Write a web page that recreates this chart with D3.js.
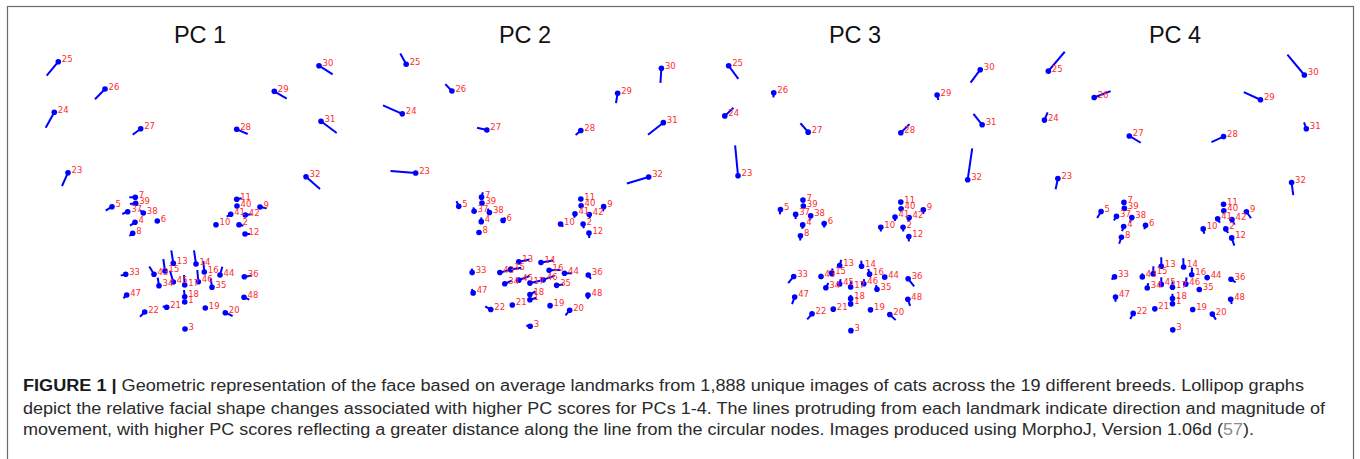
<!DOCTYPE html>
<html>
<head>
<meta charset="utf-8">
<script src="https://cdn.jsdelivr.net/npm/d3@7"></script>
<style>
  html, body { margin: 0; padding: 0; background: #fff; }
  svg { display: block; }
</style>
</head>
<body>
<svg id="chart" width="1360" height="459"></svg>
<script>
// ---------------- DATA ----------------
const landmarkIds = d3.range(1, 49);
// average landmark coordinates (arbitrary units, y downward)
const meanX = [184.7,239,185,135,112,157.3,135.3,132.7,260,216,236.7,245,173.3,196,165,204.3,184.7,184.7,205.3,225.3,166.7,144.7,68,54.3,58.3,105,140.7,236.7,274.3,319,321,306,125.7,159,212,244.3,127.7,143.3,135.7,237,230.7,245.3,154,220,173.3,198.3,126.7,244];
const meanY = [302,224.7,329,222.3,206.7,221,197.3,233.3,207,224.7,199.3,234,263.3,264,271,272,285,296.7,308,312.7,307.3,312,172.7,112.3,61.7,89,128.7,129.3,91.3,65.7,121.3,176.7,274.3,285.7,287.3,276.7,211.7,213,203.3,206,214.3,215,274.3,275,282,281.7,295,297.3];

const pcNames = ["PC 1", "PC 2", "PC 3", "PC 4"];
// displacement vectors (direction and magnitude) for each landmark 1..48
const pc1dx = [0,4.3,0,-5,-6.3,-2,-6,-3.4,6.7,-1,5,5,-2,-2,-1.7,-1,-0.7,-0.7,-1,7.3,-4,-4.7,-6,-8.6,-11.6,-10,-8,11,12.4,13.7,15.7,14,-5,-1.3,-1.3,7.3,-5.4,-3.3,-5.7,2,-4,6.3,-4.7,2.3,-3.3,-1,-3.3,5.3];
const pc1dy = [-1,1,0,3.4,4,1,0,2.7,1.3,0.5,-1,0,-13,-13.7,-12,-11,-10,-6.7,0,3.3,-0.7,4.7,13.3,15.4,14,10.3,6,4.7,7.4,8.6,11.7,12.3,1.3,-8,-9,-1,2.3,-2.7,0.7,0,2.3,-0.7,-7.7,-8.3,-11.3,-11.7,3.3,2.3];
const pc2dx = [6.7,0.7,-4,0,-2.3,2.3,1.3,0,-0.7,2.7,0,0.3,11,12.3,11,11.7,10.7,5.7,1,-4.3,1,-5.7,-25.7,-19.7,-6,-6.7,-10,-5.3,-1.7,-1,-15.7,-22.3,-0.3,7,6.7,2.7,-0.7,-1.7,0,0,-0.7,0.7,12.3,7.7,11,11.7,-1.3,-0.3];
const pc2dy = [-2,4.3,-0.7,-4.3,-5.3,-2.7,-5,-2,4.7,2.7,-2,5,-2.3,-2,-1.7,-0.3,-2.3,-3.3,0,5.3,0,-3.3,-2,-8.7,-11,-7,-2.3,4.7,10,15,12.3,6.7,-4,-3.3,-1,4,-4,-4,-2,2,4,3.7,-3.3,0,-4.3,-4.3,-4,4];
const pc3dx = [0,0.3,0,-0.3,-0.7,0,0,-0.3,0,0,0,0,1.7,-0.3,1,-1.3,0.3,0,0,6,0,-5,-3,9,10,-0.3,-8,9,1.3,-10,-9,4.7,-5.7,2.7,-1,6.3,0,-0.7,0,0,0,-0.7,-0.7,0,1,0.3,-2.7,2.3];
const pc3dy = [1,4.3,1,4,5,4,2,4.7,4.3,4.3,2,5,-5.7,-5.7,-4.7,-5.3,-5.7,-3.7,1,5.7,1,5.7,-30.7,-8.3,13.3,4.7,-9,-8.7,5,13,-11,-31.7,6.7,-4.7,-4.3,7.7,4.7,4.7,2,2,4,4,-2.7,-1,-5,-4.7,7.3,6.7];
const pc4dx = [0,2.3,0,-1.7,-4,-1.3,0,-2.3,4.7,1,0,2.7,0,-0.3,0.3,0.3,0,0,0,3.7,0,-3,-2.3,3.3,16.7,16.7,11.7,-12.3,-17,-17.3,-2.3,1.7,-3,1,0,4.7,-2.7,-2,0,0,2.3,2.7,0,0,0,0.7,0,1];
const pc4dy = [-1,4.3,0,4.7,6.7,4,2,6.7,6.7,5,2,8,-9.3,-9,-7.7,-7.3,-6,-5,0,5.7,0,5.7,11,-8,-20,-6.7,7,5.7,-8,-21,-6.7,13,2.7,-5,-1,3.3,4.3,5,3,2,4,5.3,-3.7,-1,-7.3,-7,5,5];

const captionBold = "FIGURE 1 | ";
const captionLines = [
  "Geometric representation of the face based on average landmarks from 1,888 unique images of cats across the 19 different breeds. Lollipop graphs",
  "depict the relative facial shape changes associated with higher PC scores for PCs 1-4. The lines protruding from each landmark indicate direction and magnitude of",
  "movement, with higher PC scores reflecting a greater distance along the line from the circular nodes. Images produced using MorphoJ, Version 1.06d ("
];
const captionRef = "57";
const captionEnd = ").";

// ---------------- LAYOUT ----------------
const panelLayout = [
  { sx: 1.000, bx: 0.0,   sy: 1.000, by: 0.0,  titleX: 200 },
  { sx: 0.979, bx: 349.1, sy: 0.980, by: 3.8,  titleX: 525 },
  { sx: 0.965, bx: 672.4, sy: 0.991, by: 4.6,  titleX: 855 },
  { sx: 0.982, bx: 991.1, sy: 0.968, by: 11.4, titleX: 1175 }
];
const vecX = [pc1dx, pc2dx, pc3dx, pc4dx];
const vecY = [pc1dy, pc2dy, pc3dy, pc4dy];

const svg = d3.select("#chart");

// frame
svg.append("rect")
  .attr("x", 7.5).attr("y", 6.5)
  .attr("width", 1346).attr("height", 470)
  .attr("fill", "none").attr("stroke", "#6b6b6b").attr("stroke-width", 1.2);

pcNames.forEach((name, p) => {
  const L = panelLayout[p];
  const x = d3.scaleLinear().domain([0, 400]).range([L.bx, L.bx + 400 * L.sx]);
  const y = d3.scaleLinear().domain([0, 400]).range([L.by, L.by + 400 * L.sy]);
  const pts = landmarkIds.map((id, i) => ({
    id, x0: meanX[i], y0: meanY[i], x1: meanX[i] + vecX[p][i], y1: meanY[i] + vecY[p][i]
  }));
  const g = svg.append("g").attr("class", "panel");

  g.append("text")
    .attr("x", L.titleX).attr("y", 42.5)
    .attr("text-anchor", "middle")
    .attr("font-family", "Liberation Sans, Arial, sans-serif")
    .attr("font-size", 23.5)
    .attr("fill", "#111")
    .text(name);

  g.selectAll("line.vec").data(pts).join("line")
    .attr("class", "vec")
    .attr("x1", d => x(d.x0)).attr("y1", d => y(d.y0))
    .attr("x2", d => x(d.x1)).attr("y2", d => y(d.y1))
    .attr("stroke", "#0000ff").attr("stroke-width", 2);

  g.selectAll("circle.lm").data(pts).join("circle")
    .attr("class", "lm")
    .attr("cx", d => x(d.x0)).attr("cy", d => y(d.y0))
    .attr("r", 2.8)
    .attr("fill", "#0000ff");

  g.selectAll("text.lbl").data(pts).join("text")
    .attr("class", "lbl")
    .attr("x", d => x(d.x0) + 3.5).attr("y", d => y(d.y0) + 0.5)
    .attr("font-family", "DejaVu Sans, sans-serif")
    .attr("font-size", 8.5)
    .attr("fill", "#ff2b2b")
    .text(d => d.id);
});

// caption
const capWidths = [1281, 1302, 1231];
const capBase = [390.5, 413.8, 434.5];
captionLines.forEach((line, i) => {
  const t = svg.append("text")
    .attr("x", 23).attr("y", capBase[i])
    .attr("font-family", "Liberation Sans, Arial, sans-serif")
    .attr("font-size", 16)
    .attr("fill", "#2a2a2a")
    .attr("textLength", capWidths[i])
    .attr("lengthAdjust", "spacingAndGlyphs");
  if (i === 0) {
    t.append("tspan").attr("font-weight", "bold").attr("fill", "#1a1a1a").text(captionBold);
  }
  t.append("tspan").text(line);
  if (i === 2) {
    t.append("tspan").attr("fill", "#8a8a8a").text(captionRef);
    t.append("tspan").text(captionEnd);
  }
});
</script>
</body>
</html>
